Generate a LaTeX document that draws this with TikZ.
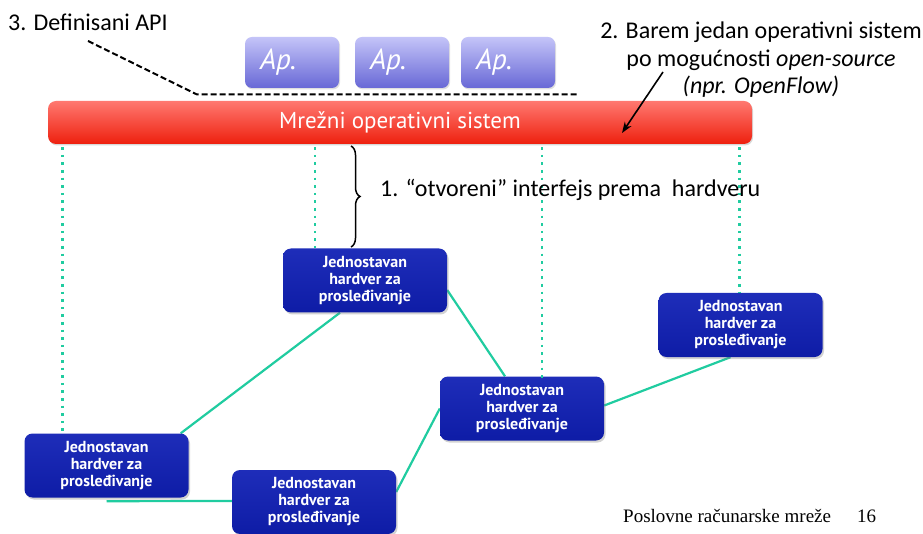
\documentclass[tikz,border=0pt]{standalone}
\usepackage{fontspec}
\setmainfont{Carlito}
\newfontfamily\boxfont{PT Sans}
\newfontfamily\footfont{Liberation Serif}
\usetikzlibrary{calc,decorations.pathreplacing,shadows,arrows.meta,backgrounds}

\definecolor{hwblue}{RGB}{14,28,166}
\definecolor{hwtop}{RGB}{30,45,185}
\definecolor{apptop}{RGB}{196,196,248}
\definecolor{appbot}{RGB}{104,104,214}
\definecolor{redtop}{RGB}{255,120,112}
\definecolor{redbot}{RGB}{238,32,14}
\definecolor{teal}{RGB}{32,204,160}

\tikzset{
  hw/.style={rounded corners=8pt, top color=hwtop, bottom color=hwblue,
    minimum width=164pt, minimum height=64pt, inner sep=2pt,
    text=white, align=center,
    font=\boxfont\bfseries\fontsize{16}{17}\selectfont,
    drop shadow={shadow xshift=1.5pt, shadow yshift=-2pt, opacity=0.35}},
  app/.style={rounded corners=7pt, top color=apptop, bottom color=appbot,
    minimum height=51pt, text width=64pt, inner xsep=15pt, align=left,
    text=white, font=\boxfont\itshape\fontsize{29}{31}\selectfont,
    drop shadow={shadow xshift=1pt, shadow yshift=-1.5pt, opacity=0.25}},
  nos/.style={rounded corners=8pt, top color=redtop, bottom color=redbot,
    minimum width=704pt, minimum height=43pt, text=white,
    font=\boxfont\fontsize{23}{25}\selectfont,
    drop shadow={shadow xshift=1pt, shadow yshift=-1.5pt, opacity=0.3}},
  label/.style={font=\fontsize{24}{27.5}\selectfont, inner sep=0pt},
  link/.style={draw=teal, line width=2.2pt},
  vdots/.style={draw=teal, line width=2.6pt, dash pattern=on 2.6pt off 5pt},
  apiline/.style={draw=black, line width=2pt, dash pattern=on 6pt off 3pt},
  foottext/.style={font=\footfont\fontsize{19}{21}\selectfont,
    anchor=base west, inner sep=0pt},
}

\begin{document}
\begin{tikzpicture}[x=1pt,y=-1pt]
\useasboundingbox (0,0) rectangle (923,534);

% network operating system and applications
\node[nos] (bar) at (400,122.5) {Mrežni operativni sistem};
\node[app] (ap1) at (292,62.5) {Ap.};
\node[app] (ap2) at (402,62.5) {Ap.};
\node[app] (ap3) at (508,62.5) {Ap.};

% forwarding hardware
\node[hw] (B1) at (365,280.5) {Jednostavan\\hardver za\\prosleđivanje};
\node[hw] (B2) at (740.5,325) {Jednostavan\\hardver za\\prosleđivanje};
\node[hw] (B3) at (522,408.5) {Jednostavan\\hardver za\\prosleđivanje};
\node[hw] (B4) at (106.5,465.5) {Jednostavan\\hardver za\\prosleđivanje};
\node[hw] (B5) at (314,502) {Jednostavan\\hardver za\\prosleđivanje};

% white page and the links between the switches, behind the boxes
\begin{scope}[on background layer]
  \fill[white] (0,0) rectangle (923,534);
  \draw[link] ($(B1.south)+(-25,0)$) -- ($(B4.north east)+(-8,0)$);
  \draw[link] ($(B1.east)+(0,9.5)$) -- ($(B3.north)+(-17,0)$);
  \draw[link] ($(B3.east)+(0,-3)$) -- ($(B2.south)+(-10,0)$);
  \draw[link] ($(B5.east)+(0,-10)$) -- (B3.west);
  \draw[link] ($(B4.south)+(0,3.5)$) -- ($(B5.west)+(0,-1)$);
\end{scope}

% control channels from the operating system to each switch
\coordinate (d1) at ($(B4.north west)+(38,-2)$);
\coordinate (d2) at ($(B1.north west)+(32,0)$);
\coordinate (d3) at ($(B3.north west)+(102,3)$);
\coordinate (d4) at ($(B2.north west)+(81,-1)$);
\foreach \d in {d1,d2,d3,d4}
  \draw[vdots] (bar.south -| \d) ++(0,3) -- (\d);

% 1. open interface
\draw[line width=1.5pt, decorate, decoration={brace, amplitude=9pt}]
  (351,146) -- (351,247);
\node[label, anchor=west] (l1) at (380,190)
  {1. “otvoreni” interfejs prema\ \ hardveru};

% 2. operating system
\node[label, align=center] (l2) at (761,60)
  {2. Barem jedan operativni sistem\\
   po mogućnosti \textit{open-source}\\
   \textit{(npr. OpenFlow)}};
\coordinate (a2s) at (663,72);
\coordinate (a2e) at (622,133);
\draw[line width=1.6pt, -{Stealth[length=11pt,width=8pt]}] (a2s) -- (a2e);

% 3. defined API
\node[label, anchor=west] (l3) at (8,22) {3. Definisani API};
\coordinate (api1) at (88,41);
\coordinate (api2) at (197,94.5);
\coordinate (api3) at (578,94.5);
\draw[apiline] (api1) -- (api2) -- (api3);

% footer
\node[foottext] (foot) at (623,522) {Poslovne računarske mreže};
\node[foottext] (page) at (857,522) {16};
\end{tikzpicture}
\end{document}
